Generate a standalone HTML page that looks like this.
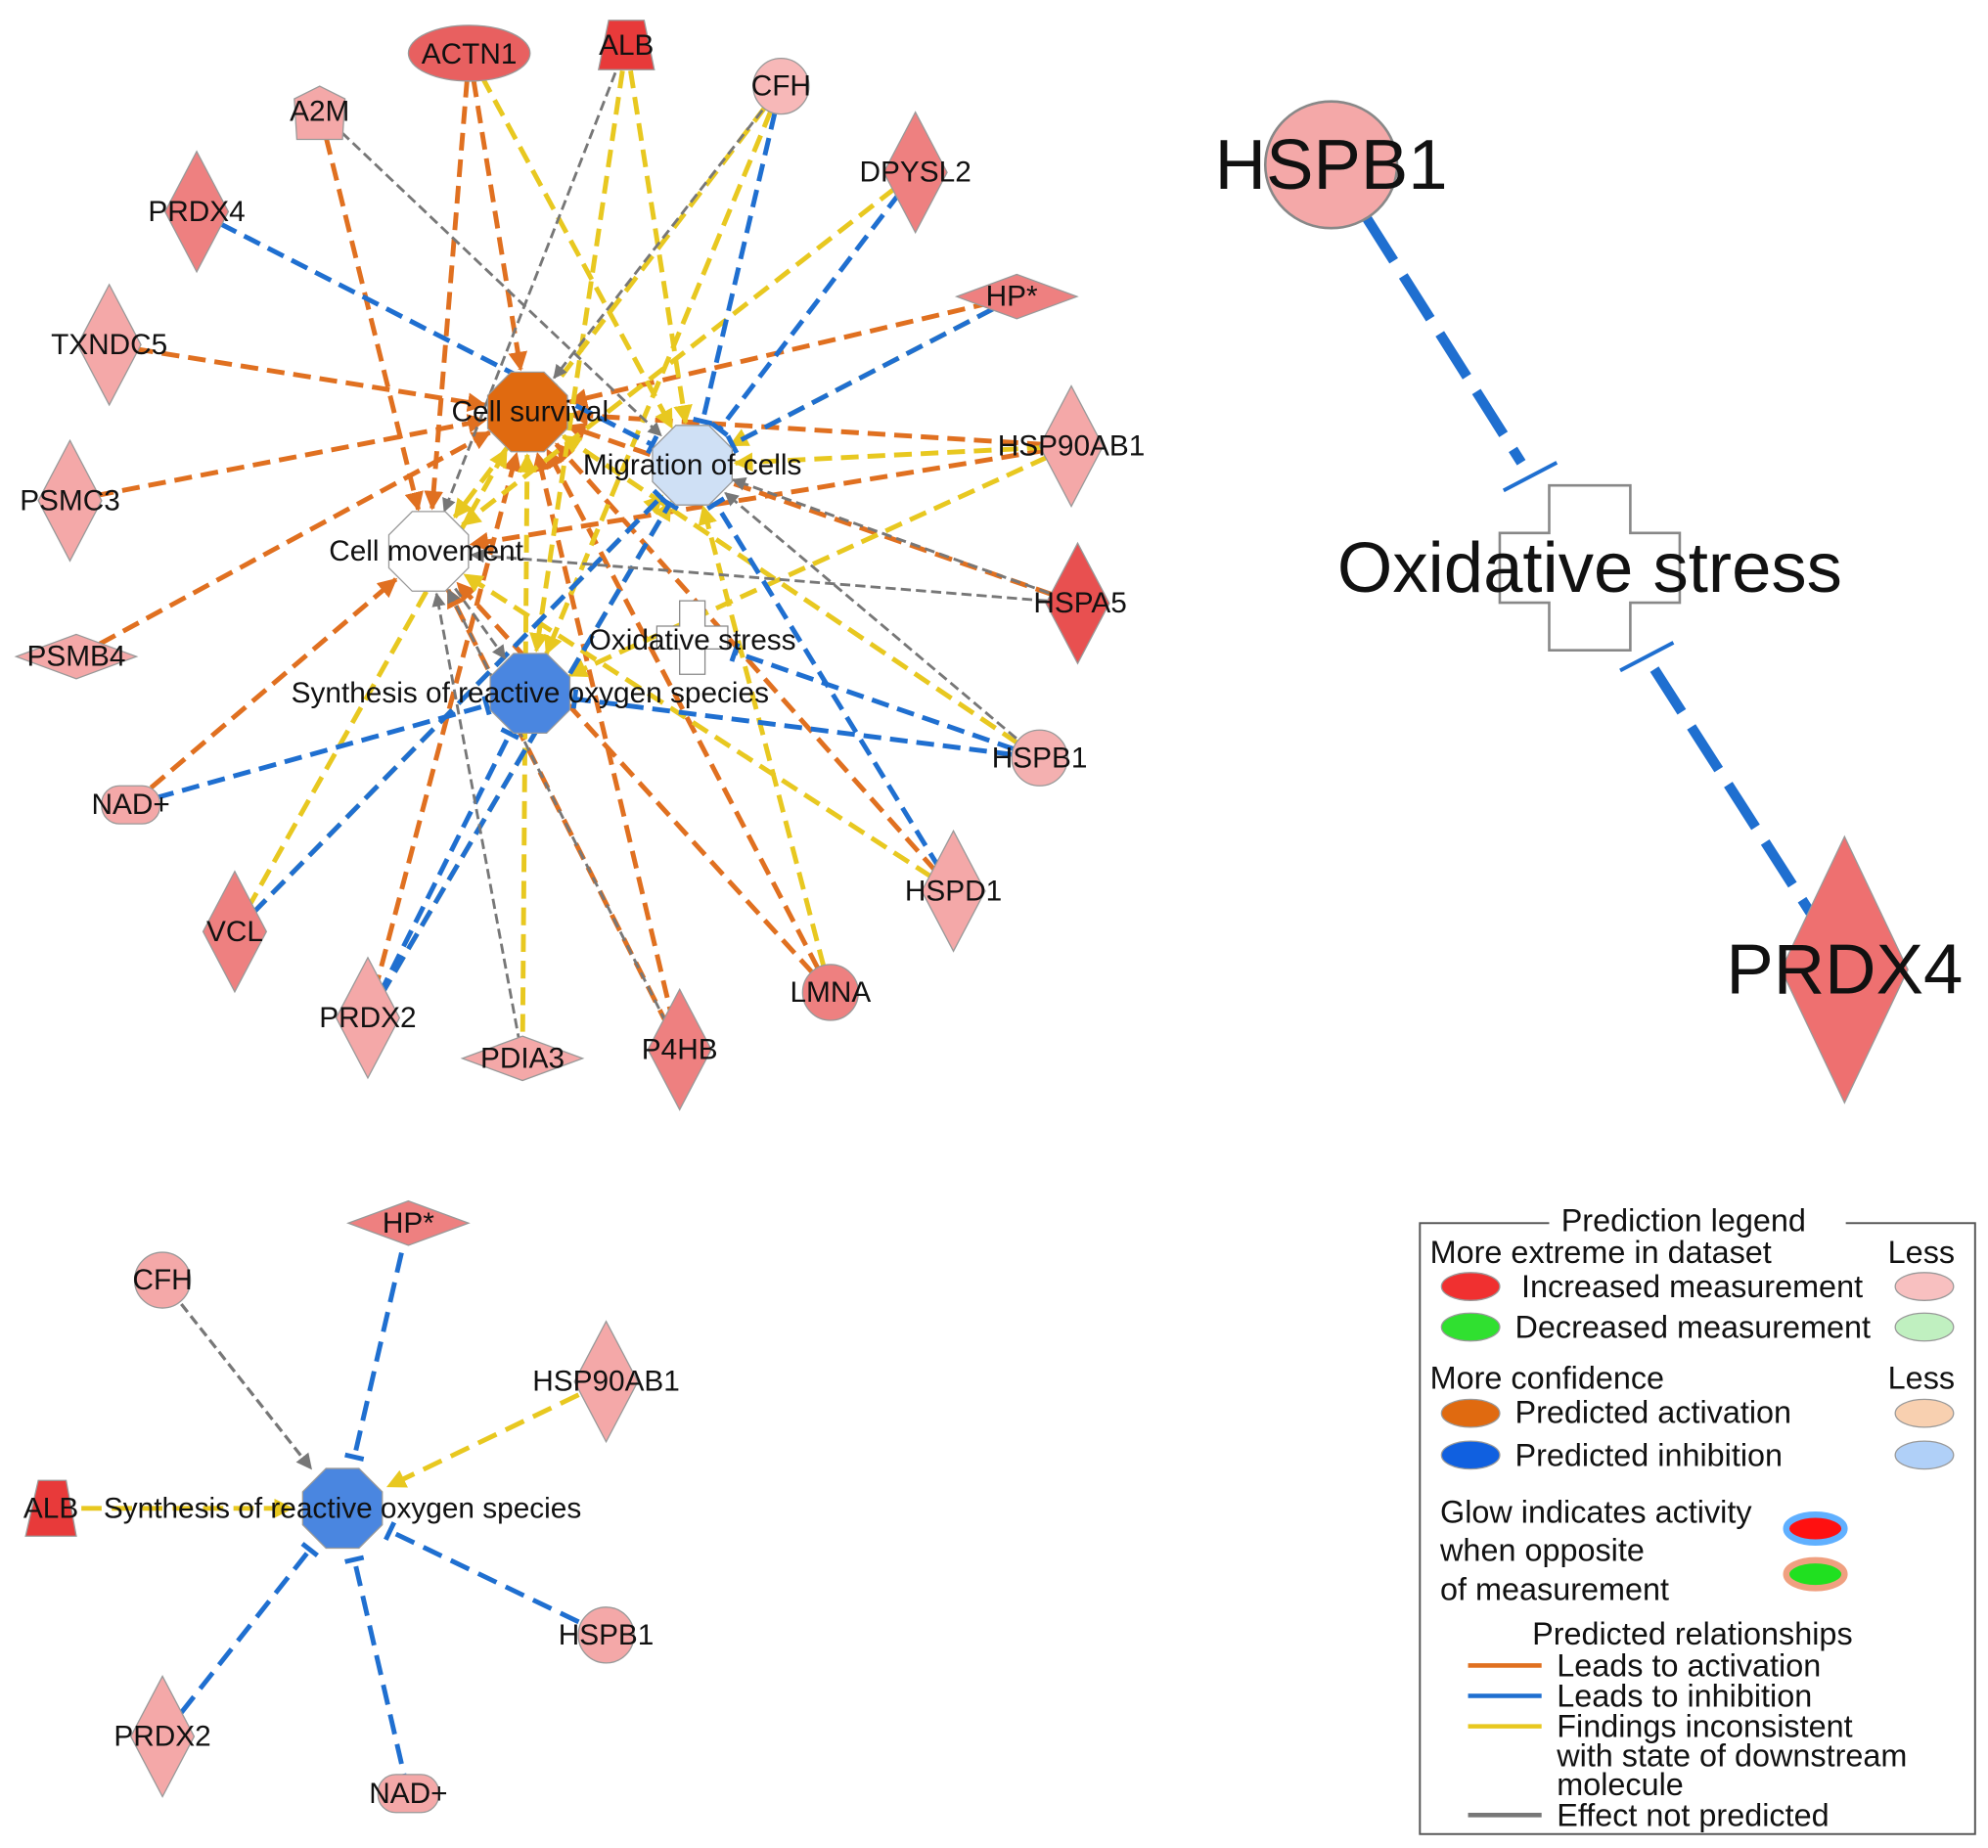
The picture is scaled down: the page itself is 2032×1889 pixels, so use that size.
<!DOCTYPE html>
<html><head><meta charset="utf-8"><style>
html,body{margin:0;padding:0;background:#fff;}
svg{display:block;}
text{font-family:"Liberation Sans",sans-serif;}
</style></head><body>
<svg id="s" width="2032" height="1889" viewBox="0 0 1568 1458" xmlns="http://www.w3.org/2000/svg">
<defs>
<marker id="mo" viewBox="0 0 10 10" refX="9" refY="5" markerWidth="4" markerHeight="4" orient="auto"><path d="M0,0L10,5L0,10z" fill="#e07020"/></marker>
<marker id="my" viewBox="0 0 10 10" refX="9" refY="5" markerWidth="4" markerHeight="4" orient="auto"><path d="M0,0L10,5L0,10z" fill="#e8c820"/></marker>
<marker id="mg" viewBox="0 0 10 10" refX="9" refY="5" markerWidth="5" markerHeight="5" orient="auto"><path d="M0,0L10,5L0,10z" fill="#777"/></marker>
<marker id="mb" viewBox="0 0 10 10" refX="9" refY="5" markerWidth="4" markerHeight="4" orient="auto"><path d="M8,0L8,10" stroke="#1f6fd0" stroke-width="2.5"/></marker>
</defs>
<g id="edges"></g>
<g id="nodes"></g>
</svg>
<script>
const S="http://www.w3.org/2000/svg";
const E=document.getElementById('edges'),N=document.getElementById('nodes');
function el(p,tag,a,txt){const e=document.createElementNS(S,tag);for(const k in a)e.setAttribute(k,a[k]);if(txt!==undefined)e.textContent=txt;p.appendChild(e);return e;}
const P={ACTN1:[370,42],ALB:[494,35],A2M:[252,88],CFH:[616,68],DPYSL2:[722,136],PRDX4:[155,167],HP:[802,234],TXNDC5:[86,272],HSP90AB1:[845,352],PSMC3:[55,395],HSPA5:[850,476],PSMB4:[60,518],HSPB1:[820,598],NAD:[103,635],HSPD1:[752,703],VCL:[185,735],PRDX2:[290,803],PDIA3:[412,835],P4HB:[536,828],LMNA:[655,783],
CS:[416,325],MC:[546,367],CM:[338,435],OX:[546,503],ROS:[418,547]};
const col={o:'#e07020',y:'#e8c820',b:'#1f6fd0',g:'#777'};
function edge(a,b,c,w,r){const p=P[a],q=P[b];const dx=q[0]-p[0],dy=q[1]-p[1],L=Math.hypot(dx,dy);r=r||34;
const x2=q[0]-dx/L*r,y2=q[1]-dy/L*r;
el(E,'line',{x1:p[0],y1:p[1],x2:x2,y2:y2,stroke:col[c],'stroke-width':c=='g'?2.2:(w||3.8),'stroke-dasharray':c=='g'?'8 4':'14 7','marker-end':'url(#m'+c+')'});}
const list=[
['ACTN1','CM','o'],['A2M','CM','o'],['TXNDC5','CS','o'],['PSMC3','CS','o'],['PSMB4','CS','o'],['NAD','CM','o'],['HP','CS','o'],['HSP90AB1','CS','o'],['HSP90AB1','CM','o'],['HSPA5','CS','o'],['LMNA','CS','o'],['LMNA','CM','o'],['P4HB','CS','o'],['PRDX2','CS','o'],['HSPD1','CS','o'],['ACTN1','CS','o'],['P4HB','CM','o'],
['ALB','MC','y'],['ALB','ROS','y'],['ACTN1','MC','y'],['CFH','CM','y'],['DPYSL2','CM','y'],['HP','MC','y'],['HSP90AB1','MC','y'],['VCL','CS','y'],['VCL','MC','y'],['PRDX2','MC','y'],['PDIA3','CS','y'],['LMNA','MC','y'],['HSPD1','CM','y'],['HSPB1','CS','y'],['CFH','ROS','y'],['HSP90AB1','ROS','y'],
['PRDX4','MC','b'],['CFH','MC','b'],['DPYSL2','MC','b'],['HP','MC','b'],['HSPB1','ROS','b'],['HSPB1','OX','b'],['HSPD1','MC','b'],['NAD','ROS','b'],['VCL','MC','b'],['PRDX2','ROS','b'],['PRDX2','MC','b'],
['A2M','MC','g'],['ALB','CM','g'],['CFH','CS','g'],['HSPA5','CM','g'],['HSPA5','MC','g'],['HSPB1','MC','g'],['PDIA3','CM','g'],['P4HB','CM','g'],['CM','ROS','g']
];
list.forEach(l=>edge(l[0],l[1],l[2]));
const B={HP:[322,965],CFH:[128,1010],HSP:[478,1090],ALB:[40,1190],ROS:[270,1190],HSPB1:[478,1290],PRDX2:[128,1370],NAD:[322,1415]};
function be(a,c){const p=B[a],q=B.ROS;const dx=q[0]-p[0],dy=q[1]-p[1],L=Math.hypot(dx,dy),r=40;
el(E,'line',{x1:p[0],y1:p[1],x2:q[0]-dx/L*r,y2:q[1]-dy/L*r,stroke:col[c],'stroke-width':c=='g'?2.5:3.8,'stroke-dasharray':c=='g'?'8 4':'16 8','marker-end':'url(#m'+c+')'});}
be('HP','b');be('CFH','g');be('HSP','y');be('ALB','y');be('HSPB1','b');be('PRDX2','b');be('NAD','b');
el(E,'line',{x1:1078,y1:172,x2:1200,y2:365,stroke:'#1f6fd0','stroke-width':8,'stroke-dasharray':'40 14'});
el(E,'line',{x1:1186,y1:387,x2:1228,y2:365,stroke:'#1f6fd0','stroke-width':3});
el(E,'line',{x1:1305,y1:528,x2:1428,y2:720,stroke:'#1f6fd0','stroke-width':8,'stroke-dasharray':'40 14'});
el(E,'line',{x1:1278,y1:529,x2:1320,y2:507,stroke:'#1f6fd0','stroke-width':3});

function diamond(x,y,w,h,f){el(N,'polygon',{points:`${x},${y-h/2} ${x+w/2},${y} ${x},${y+h/2} ${x-w/2},${y}`,fill:f,stroke:'#999','stroke-width':1});}
function circ(x,y,r,f){el(N,'ellipse',{cx:x,cy:y,rx:r,ry:r,fill:f,stroke:'#999','stroke-width':1});}
function oct(x,y,r,f){let p=[];for(let i=0;i<8;i++){const a=Math.PI/8+i*Math.PI/4;p.push((x+r*Math.cos(a))+','+(y+r*Math.sin(a)));}el(N,'polygon',{points:p.join(' '),fill:f,stroke:'#999','stroke-width':1});}
function cross(x,y,w,h,aw,ah,sw){el(N,'path',{d:`M${x-aw/2},${y-h/2}H${x+aw/2}V${y-ah/2}H${x+w/2}V${y+ah/2}H${x+aw/2}V${y+h/2}H${x-aw/2}V${y+ah/2}H${x-w/2}V${y-ah/2}H${x-aw/2}Z`,fill:'#fff',stroke:'#888','stroke-width':sw});}
function t(x,y,s,fs,a){el(N,'text',{x:x,y:y,'font-size':fs||23,'text-anchor':a||'middle','dominant-baseline':'central',fill:'#111'},s);}
const pk='#f4a8a8',md='#ee8080',rd='#e85050';
el(N,'ellipse',{cx:370,cy:42,rx:48,ry:22,fill:'#e86060',stroke:'#999'});t(370,43,'ACTN1');
el(N,'polygon',{points:'480,16 508,16 516,55 472,55',fill:'#e83a3a',stroke:'#999'});t(494,36,'ALB');
el(N,'polygon',{points:'252,68 272,78 270,110 234,110 232,78',fill:pk,stroke:'#999'});t(252,88,'A2M');
circ(616,68,22,'#f7b8b8');t(616,68,'CFH');
diamond(722,136,50,95,md);t(722,136,'DPYSL2');
diamond(155,167,50,95,md);t(155,167,'PRDX4');
diamond(802,234,95,35,md);t(798,234,'HP*');
diamond(86,272,50,95,pk);t(86,272,'TXNDC5');
diamond(845,352,50,95,pk);t(845,352,'HSP90AB1');
diamond(55,395,50,95,pk);t(55,395,'PSMC3');
diamond(850,476,50,95,rd);t(852,476,'HSPA5');
diamond(60,518,95,35,pk);t(60,518,'PSMB4');
circ(820,598,22,'#f4b0b0');t(820,598,'HSPB1');
el(N,'rect',{x:80,y:620,width:46,height:30,rx:14,fill:pk,stroke:'#999'});t(103,635,'NAD+');
diamond(752,703,50,95,pk);t(752,703,'HSPD1');
diamond(185,735,50,95,md);t(185,735,'VCL');
diamond(290,803,50,95,pk);t(290,803,'PRDX2');
diamond(412,835,95,35,pk);t(412,835,'PDIA3');
diamond(536,828,50,95,md);t(536,828,'P4HB');
circ(655,783,22,md);t(655,783,'LMNA');
oct(416,325,34,'#e06a10');t(418,325,'Cell survival');
oct(546,367,34,'#cfe0f5');t(546,367,'Migration of cells');
oct(338,435,34,'#fff');t(336,435,'Cell movement');
cross(546,503,56,58,20,18,1);t(546,505,'Oxidative stress');
oct(418,547,34,'#4a86e0');t(418,547,'Synthesis of reactive oxygen species');
diamond(322,965,95,35,md);t(322,965,'HP*');
circ(128,1010,22,pk);t(128,1010,'CFH');
diamond(478,1090,50,95,pk);t(478,1090,'HSP90AB1');
el(N,'polygon',{points:'30,1168 52,1168 60,1212 20,1212',fill:'#e83a3a',stroke:'#999'});t(40,1190,'ALB');
oct(270,1190,34,'#4a86e0');t(270,1190,'Synthesis of reactive oxygen species');
circ(478,1290,22,pk);t(478,1290,'HSPB1');
diamond(128,1370,50,95,pk);t(128,1370,'PRDX2');
el(N,'rect',{x:298,y:1400,width:48,height:30,rx:14,fill:pk,stroke:'#999'});t(322,1415,'NAD+');
el(N,'ellipse',{cx:1050,cy:130,rx:52,ry:50,fill:'#f4a8a8',stroke:'#888','stroke-width':2});t(1050,130,'HSPB1',56);
cross(1254,448,142,130,64,55,2);t(1254,448,'Oxidative stress',56);
diamond(1455,765,100,210,'#ee7070');t(1455,765,'PRDX4',56);
el(N,'rect',{x:1120,y:965,width:438,height:482,fill:'none',stroke:'#555','stroke-width':1.5});
el(N,'rect',{x:1222,y:955,width:234,height:20,fill:'#fff'});
const LF=25;
t(1328,963,'Prediction legend',LF);
t(1128,988,'More extreme in dataset',LF,'start');t(1542,988,'Less',LF,'end');
function lel(x,y,f,st,sw){el(N,'ellipse',{cx:x,cy:y,rx:23,ry:11,fill:f,stroke:st||'#999','stroke-width':sw||1});}
lel(1160,1015,'#f03030');t(1200,1015,'Increased measurement',LF,'start');lel(1518,1015,'#f8c0c0');
lel(1160,1047,'#30e030');t(1195,1047,'Decreased measurement',LF,'start');lel(1518,1047,'#c0f0c0');
t(1128,1087,'More confidence',LF,'start');t(1542,1087,'Less',LF,'end');
lel(1160,1115,'#e06a10');t(1195,1114,'Predicted activation',LF,'start');lel(1518,1115,'#f8d0b0');
lel(1160,1148,'#1060e0');t(1195,1148,'Predicted inhibition',LF,'start');lel(1518,1148,'#b0d0f8');
t(1136,1193,'Glow indicates activity',LF,'start');t(1136,1223,'when opposite',LF,'start');t(1136,1254,'of measurement',LF,'start');
lel(1432,1206,'#ff1010','#60b0ff',5);lel(1432,1242,'#20e020','#f0a080',5);
t(1335,1289,'Predicted relationships',LF);
[['#e07020',1314],['#1f6fd0',1338],['#e8c820',1362],['#777',1432]].forEach(a=>el(N,'line',{x1:1158,y1:a[1],x2:1216,y2:a[1],stroke:a[0],'stroke-width':3.5}));
t(1228,1314,'Leads to activation',LF,'start');t(1228,1338,'Leads to inhibition',LF,'start');
t(1228,1362,'Findings inconsistent',LF,'start');t(1228,1385,'with state of downstream',LF,'start');t(1228,1408,'molecule',LF,'start');
t(1228,1432,'Effect not predicted',LF,'start');
</script>
</body></html>
